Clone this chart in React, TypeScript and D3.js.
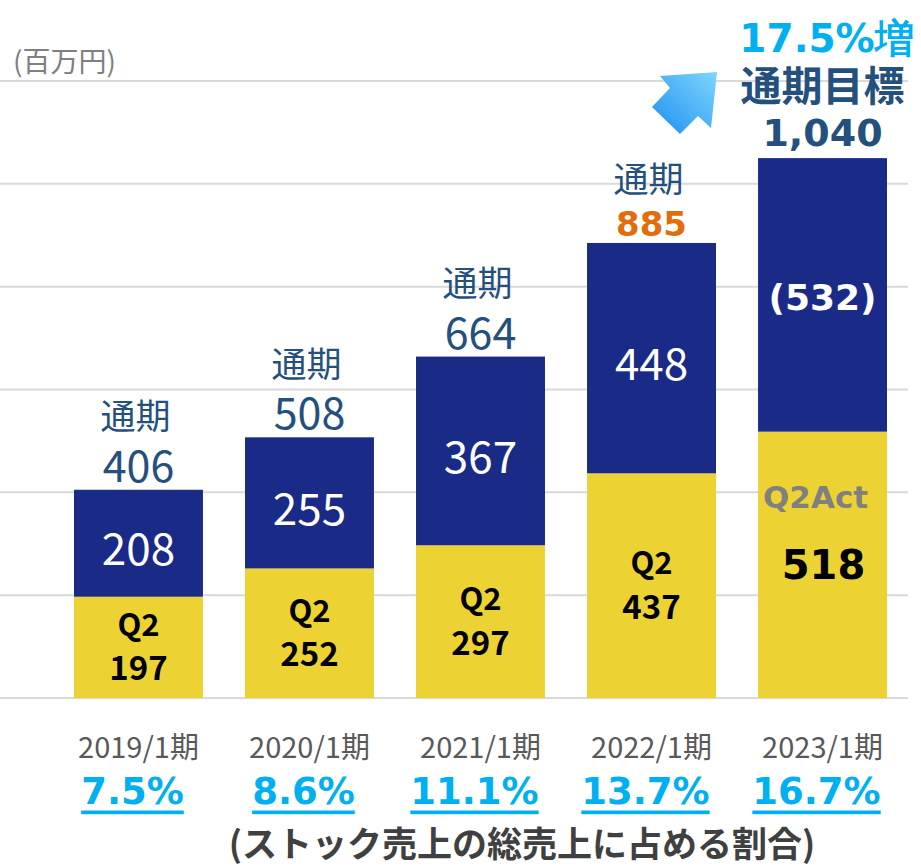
import React, { useRef, useEffect } from "react";
import * as d3 from "d3";

// data (百万円)
const periods = ["2019/1期", "2020/1期", "2021/1期", "2022/1期", "2023/1期"];
const q2Values = [197, 252, 297, 437, 518];
const h2Values = [208, 255, 367, 448, 532];
const totals = ["406", "508", "664", "885", "1,040"];
const h2Labels = ["208", "255", "367", "448", "(532)"];
const ratios = ["7.5%", "8.6%", "11.1%", "13.7%", "16.7%"];
const yTicks = [0, 200, 400, 600, 800, 1000, 1200];

const W = 921;
const H = 866;
const NAVY = "#1a2a87";
const YELLOW = "#ecd333";
const BLUE_TXT = "#24507e";
const CYAN = "#00b0f0";
const JP = "'Noto Sans CJK JP', 'Noto Sans', sans-serif";
const NUM = "'DejaVu Sans', Verdana, sans-serif";

const App = () => {
  const ref = useRef(null);

  useEffect(() => {
    const svg = d3.select(ref.current);
    svg.selectAll("*").remove();

    const x = d3.scaleBand().domain(periods).range([74, 887]).paddingInner(0.246).paddingOuter(0);
    const y = d3.scaleLinear().domain([0, 1200]).range([698, 81]);
    const bw = x.bandwidth();
    const cx = (i) => x(periods[i]) + bw / 2;

    // gridlines
    svg
      .append("g")
      .selectAll("line")
      .data(yTicks)
      .enter()
      .append("line")
      .attr("x1", 0)
      .attr("x2", 908)
      .attr("y1", (d) => y(d))
      .attr("y2", (d) => y(d))
      .attr("stroke", "#d9d9d9")
      .attr("stroke-width", 2);

    svg
      .append("text")
      .attr("x", 13)
      .attr("y", 72)
      .attr("font-family", JP)
      .attr("font-size", 28)
      .attr("fill", "#808080")
      .text("(百万円)");

    const rows = periods.map((p, i) => ({ p, i, q2: q2Values[i], h2: h2Values[i] }));

    // bars
    const bars = svg.append("g");
    bars
      .selectAll("rect.q2")
      .data(rows)
      .enter()
      .append("rect")
      .attr("x", (d) => x(d.p))
      .attr("width", bw)
      .attr("y", (d) => y(d.q2))
      .attr("height", (d) => y(0) - y(d.q2))
      .attr("fill", YELLOW);
    bars
      .selectAll("rect.h2")
      .data(rows)
      .enter()
      .append("rect")
      .attr("x", (d) => x(d.p))
      .attr("width", bw)
      .attr("y", (d) => y(d.q2 + d.h2))
      .attr("height", (d) => y(d.q2) - y(d.q2 + d.h2))
      .attr("fill", NAVY);

    const txt = (xx, yy, s, size, fill, opts = {}) =>
      svg
        .append("text")
        .attr("x", xx)
        .attr("y", yy)
        .attr("text-anchor", "middle")
        .attr("dominant-baseline", "central")
        .attr("font-family", opts.font || JP)
        .attr("font-weight", opts.bold ? "bold" : "normal")
        .attr("font-size", size)
        .attr("fill", fill)
        .text(s);

    rows.forEach((d) => {
      const top = y(d.q2 + d.h2);
      const i = d.i;
      // H2 label
      txt(cx(i), (y(d.q2) + top) / 2 + 3, h2Labels[i], i === 4 ? 36 : 44, "#fff", i === 4 ? { font: NUM, bold: true } : {});
      // Q2 label
      const mid = (y(0) + y(d.q2)) / 2;
      if (i < 4) {
        txt(cx(i), mid - 25, "Q2", 31, "#000", { bold: true });
        txt(cx(i), mid + 19, String(d.q2), 33, "#000", { bold: true });
      } else {
        txt(cx(i) - 7, mid - 68, "Q2Act", 31, "#808080", { font: NUM, bold: true });
        txt(cx(i) + 1, mid, String(d.q2), 40, "#000", { font: NUM, bold: true });
      }
      // total labels
      if (i < 3) {
        txt(cx(i) - 3, top - 76, "通期", 35, BLUE_TXT);
        txt(cx(i), top - 27, totals[i], 43, BLUE_TXT);
      } else if (i === 3) {
        txt(cx(i) - 3, top - 66, "通期", 35, BLUE_TXT);
        txt(cx(i), top - 19, totals[i], 34, "#e46c0a", { font: NUM, bold: true });
      } else {
        txt(cx(i), top - 25, totals[i], 38, BLUE_TXT, { font: NUM, bold: true });
        txt(cx(i), top - 75, "通期目標", 41, BLUE_TXT, { bold: true });
        txt(cx(i) + 4, top - 120, "17.5%増", 39, CYAN, { font: NUM, bold: true });
      }
      // x labels
      txt(cx(i), 745, d.p, 29, "#595959");
      txt(cx(i) - 6, 791, ratios[i], 37, CYAN, { font: NUM, bold: true }).style("text-decoration", "underline");
    });

    txt(522, 841, "(ストック売上の総売上に占める割合)", 35, "#404040", { bold: true });

    // arrow
    const defs = svg.append("defs");
    const g = defs
      .append("linearGradient")
      .attr("id", "arr")
      .attr("x1", "100%")
      .attr("y1", "0%")
      .attr("x2", "0%")
      .attr("y2", "100%");
    g.append("stop").attr("offset", "0%").attr("stop-color", "#7fd6ff");
    g.append("stop").attr("offset", "100%").attr("stop-color", "#1e8ff0");
    const arrowPts = [
      [717, 72],
      [660, 76],
      [670, 88],
      [652, 107],
      [680, 134],
      [698, 116],
      [711, 128],
    ];
    svg
      .append("path")
      .attr("d", d3.line()(arrowPts) + "Z")
      .attr("fill", "url(#arr)");
  }, []);

  return (
    <svg
      ref={ref}
      width={W}
      height={H}
      style={{ position: "absolute", left: 0, top: 0, background: "#fff" }}
    ></svg>
  );
};

export default App;
